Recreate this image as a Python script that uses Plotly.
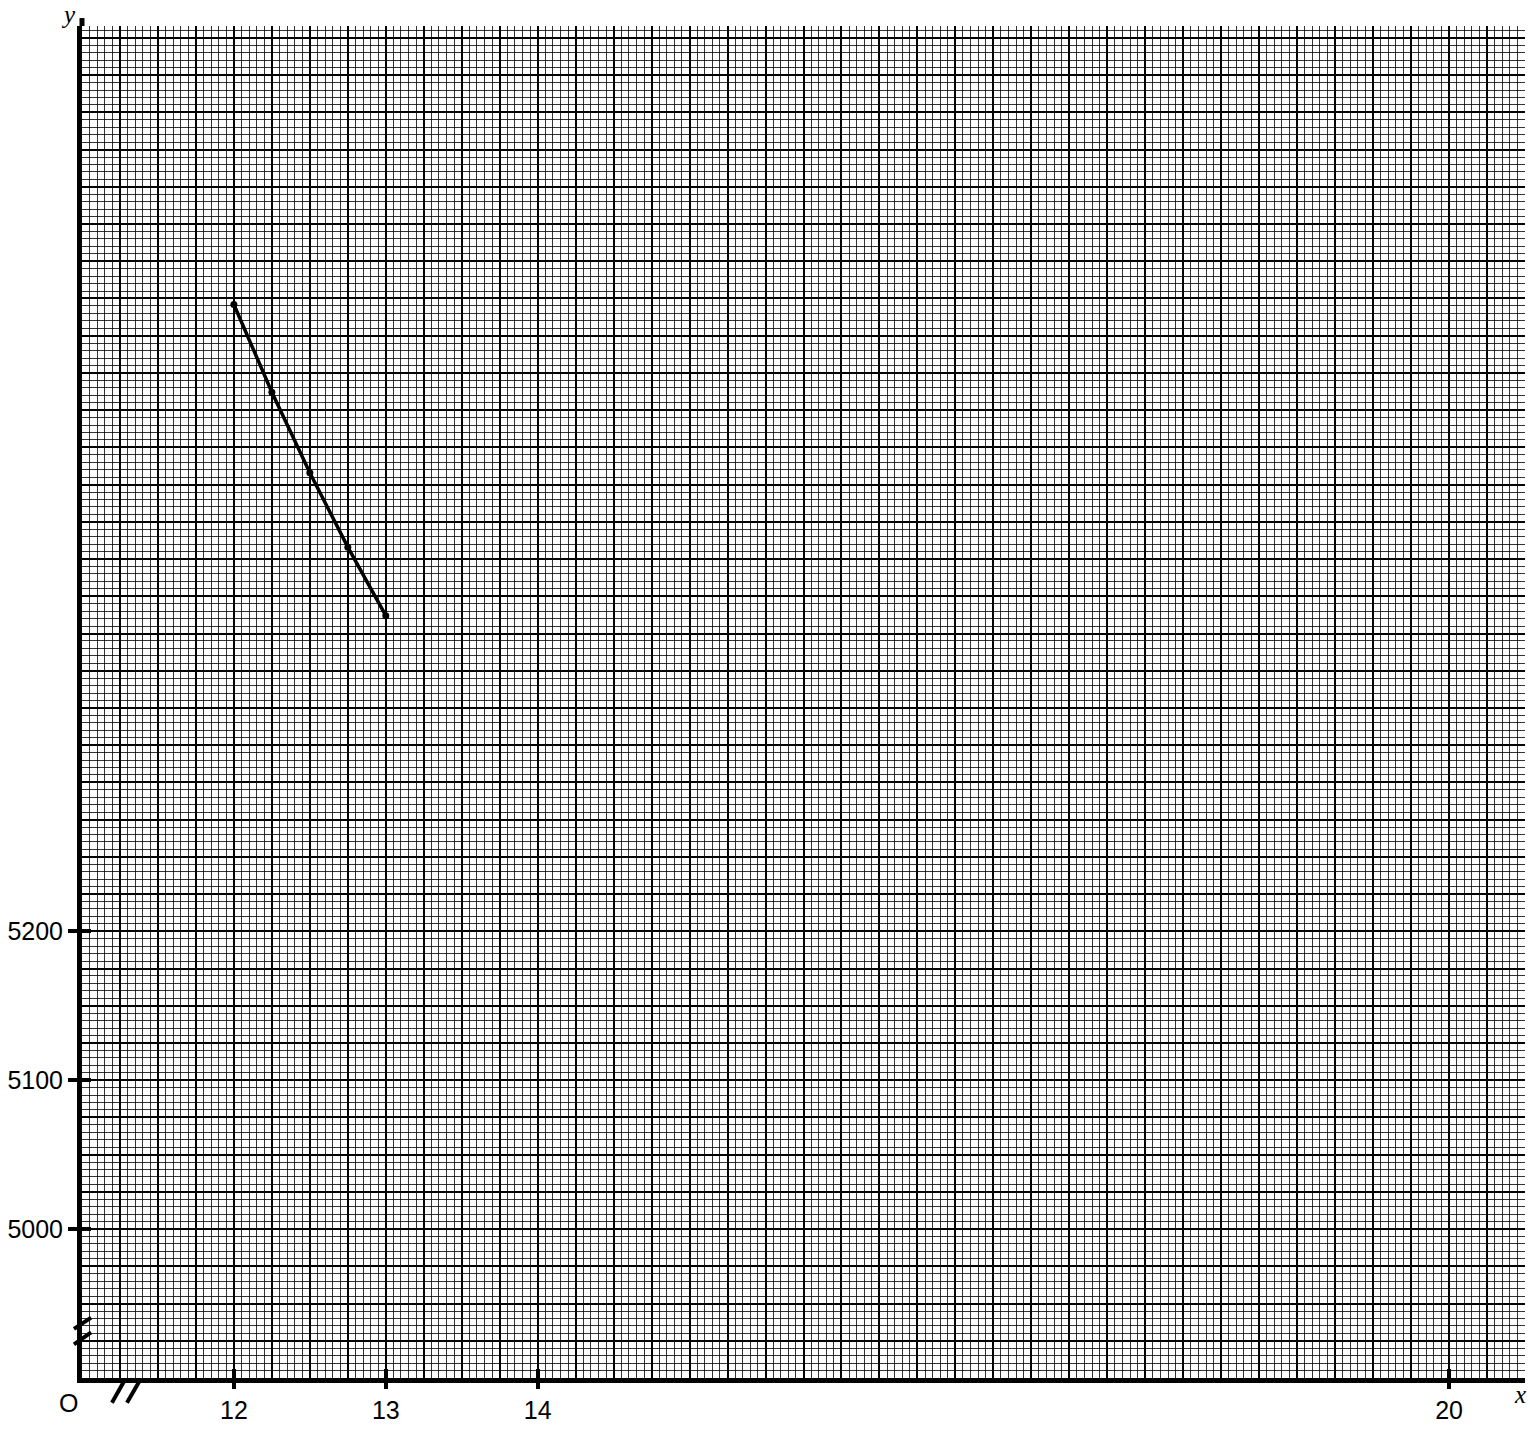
import plotly.graph_objects as go

# ---- data ----
x_vals = [12, 12.25, 12.5, 12.75, 13]
y_vals = [5621, 5562, 5508, 5458, 5412]

x_tick_vals = [12, 13, 14, 20]
x_tick_text = ["12", "13", "14", "20"]
y_tick_vals = [5000, 5100, 5200]
y_tick_text = ["5000", "5100", "5200"]

X_RANGE = [11, 20.5]
Y_RANGE = [4900, 5808]

SANS = "Liberation Sans, Arial, sans-serif"
SERIF = "Liberation Serif, Times New Roman, serif"

fig = go.Figure()
fig.add_trace(go.Scatter(
    x=x_vals, y=y_vals, mode="lines+markers",
    line=dict(color="black", width=3.5),
    marker=dict(color="black", size=7),
    hoverinfo="skip", showlegend=False))

# invisible traces so the overlay axes exist
for i in (2, 3, 4):
    fig.add_trace(go.Scatter(
        x=x_vals, y=y_vals, mode="markers", marker=dict(opacity=0),
        xaxis=f"x{i}", yaxis=f"y{i}", hoverinfo="skip", showlegend=False))

base = dict(zeroline=False, showline=False, fixedrange=True)

layout = dict(
    width=1530, height=1429,
    margin=dict(l=82, r=5, t=26, b=38, pad=0),
    plot_bgcolor="white", paper_bgcolor="white",
    showlegend=False,
    # main grid: 0.5 / 50 majors, 0.05 / 5 minors
    xaxis=dict(range=X_RANGE, tick0=11, dtick=0.5, showgrid=True,
               gridcolor="black", gridwidth=2.2,
               minor=dict(tick0=11, dtick=0.05, showgrid=True,
                          gridcolor="rgba(0,0,0,0.8)", gridwidth=1),
               showticklabels=False, ticks="", zeroline=False,
               showline=True, linecolor="black", linewidth=5, fixedrange=True),
    yaxis=dict(range=Y_RANGE, tick0=4900, dtick=50, showgrid=True,
               gridcolor="black", gridwidth=2.2,
               minor=dict(tick0=4900, dtick=5, showgrid=True,
                          gridcolor="rgba(0,0,0,0.8)", gridwidth=1),
               showticklabels=False, ticks="", zeroline=False,
               showline=True, linecolor="black", linewidth=5, fixedrange=True),
    # medium grid every 0.25 / 25
    xaxis2=dict(overlaying="x", anchor="y2", range=X_RANGE, tick0=11, dtick=0.25,
                showgrid=True, gridcolor="black", gridwidth=1.5,
                showticklabels=False, ticks="", **base),
    yaxis2=dict(overlaying="y", anchor="x2", range=Y_RANGE, tick0=4900, dtick=25,
                showgrid=True, gridcolor="black", gridwidth=1.5,
                showticklabels=False, ticks="", **base),
    # labelled ticks (outside)
    xaxis3=dict(overlaying="x", anchor="y3", range=X_RANGE, tickmode="array",
                tickvals=x_tick_vals, ticktext=x_tick_text, ticks="outside",
                ticklen=10, tickwidth=4, tickcolor="black", showgrid=False,
                tickfont=dict(family=SANS, size=25, color="black"), **base),
    yaxis3=dict(overlaying="y", anchor="x3", range=Y_RANGE, tickmode="array",
                tickvals=y_tick_vals, ticktext=y_tick_text, ticks="outside",
                ticklen=13, tickwidth=4, tickcolor="black", showgrid=False,
                tickfont=dict(family=SANS, size=25, color="black"), **base),
    # inside part of the tick marks
    xaxis4=dict(overlaying="x", anchor="y4", range=X_RANGE, tickmode="array",
                tickvals=x_tick_vals, ticks="inside", ticklen=9, tickwidth=4,
                tickcolor="black", showticklabels=False, showgrid=False, **base),
    yaxis4=dict(overlaying="y", anchor="x4", range=Y_RANGE, tickmode="array",
                tickvals=y_tick_vals, ticks="inside", ticklen=9, tickwidth=4,
                tickcolor="black", showticklabels=False, showgrid=False, **base),
)
fig.update_layout(**layout)


def fx(v):
    return (v - X_RANGE[0]) / (X_RANGE[1] - X_RANGE[0])


def fy(v):
    return (v - Y_RANGE[0]) / (Y_RANGE[1] - Y_RANGE[0])


# axis break marks
breaks = [
    ((10.947, 4933.0), (11.06, 4940.6)),
    ((10.947, 4922.6), (11.06, 4930.6)),
    ((11.197, 4883.4), (11.274, 4897.3)),
    ((11.296, 4883.4), (11.375, 4897.3)),
]
for (x0, y0), (x1, y1) in breaks:
    fig.add_shape(type="line", xref="paper", yref="paper",
                  x0=fx(x0), y0=fy(y0), x1=fx(x1), y1=fy(y1),
                  line=dict(color="black", width=4), layer="above")

# small overshoot of the y-axis line above the grid
fig.add_shape(type="line", xref="paper", yref="paper",
              x0=0, x1=0, y0=1, y1=1 + 8 / 1365,
              line=dict(color="black", width=5), layer="above")

fig.add_annotation(text="O", xref="paper", yref="paper", x=0, y=0,
                   xanchor="right", yanchor="top", xshift=-2, yshift=-9,
                   showarrow=False, font=dict(family=SANS, size=25, color="black"))
fig.add_annotation(text="<i>y</i>", xref="paper", yref="paper", x=0, y=1,
                   xanchor="center", yanchor="middle", xshift=-14, yshift=12,
                   showarrow=False, font=dict(family=SERIF, size=25, color="black"))
fig.add_annotation(text="<i>x</i>", xref="paper", yref="paper", x=1, y=0,
                   xanchor="center", yanchor="middle", xshift=-5, yshift=-16,
                   showarrow=False, font=dict(family=SERIF, size=25, color="black"))

fig.write_html("out.html", config={"displayModeBar": False},
               post_script="document.body.style.margin='0';")
